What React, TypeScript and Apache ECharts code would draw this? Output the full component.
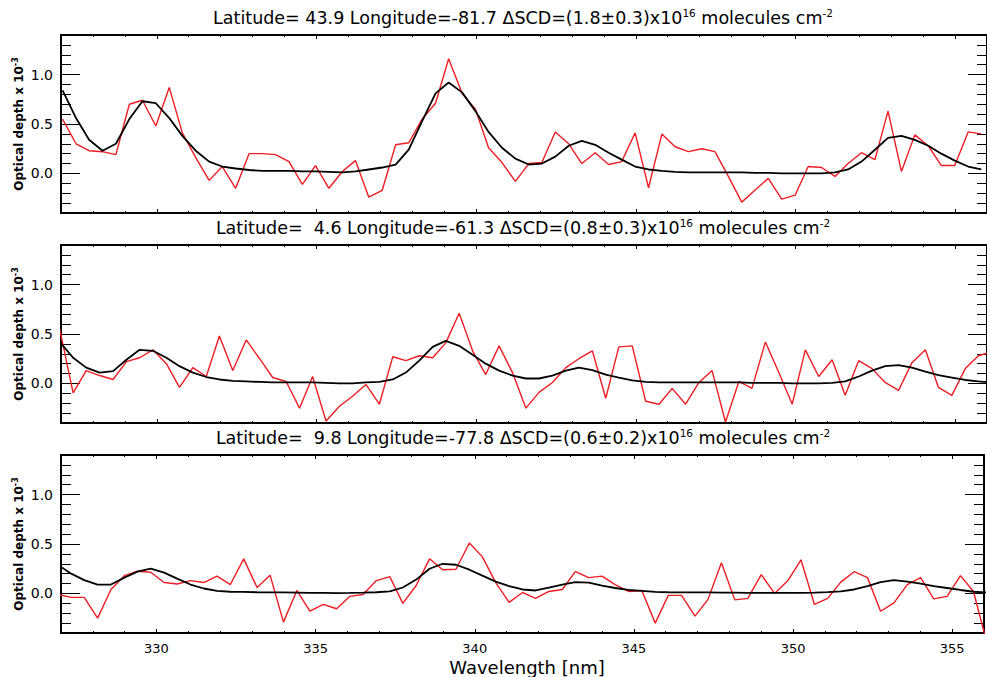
import React, { useEffect, useRef } from 'react';
import * as echarts from 'echarts';

// ---------- data ----------
const wl1 = [327.05, 327.47, 327.88, 328.30, 328.72, 329.14, 329.55, 329.97, 330.39, 330.80,
  331.22, 331.64, 332.05, 332.47, 332.89, 333.31, 333.72, 334.14, 334.56, 334.97,
  335.39, 335.81, 336.22, 336.64, 337.06, 337.48, 337.89, 338.31, 338.73, 339.14,
  339.56, 339.98, 340.39, 340.81, 341.23, 341.65, 342.06, 342.48, 342.90, 343.31,
  343.73, 344.15, 344.56, 344.98, 345.40, 345.82, 346.23, 346.65, 347.07, 347.48,
  347.90, 348.32, 348.73, 349.15, 349.57, 349.99, 350.40, 350.82, 351.24, 351.65,
  352.07, 352.49, 352.90, 353.32, 353.74, 354.16, 354.57, 354.99, 355.41, 355.82];
const obs1 = [0.55, 0.30, 0.23, 0.22, 0.19, 0.70, 0.74, 0.48, 0.87, 0.41,
  0.16, -0.07, 0.07, -0.15, 0.20, 0.20, 0.19, 0.12, -0.11, 0.08,
  -0.15, 0.02, 0.13, -0.24, -0.17, 0.29, 0.31, 0.55, 0.71, 1.16,
  0.81, 0.65, 0.26, 0.11, -0.08, 0.10, 0.11, 0.42, 0.30, 0.10,
  0.21, 0.09, 0.12, 0.41, -0.145, 0.40, 0.27, 0.22, 0.25, 0.22,
  -0.03, -0.29, -0.17, -0.05, -0.26, -0.22, 0.07, 0.06, -0.03, 0.10,
  0.21, 0.14, 0.63, 0.02, 0.39, 0.28, 0.08, 0.08, 0.42, 0.40];
const fit1 = [0.84, 0.56, 0.34, 0.23, 0.30, 0.55, 0.73, 0.71, 0.56, 0.38,
  0.23, 0.12, 0.07, 0.05, 0.035, 0.025, 0.025, 0.025, 0.02, 0.02,
  0.015, 0.01, 0.02, 0.04, 0.06, 0.09, 0.24, 0.53, 0.81, 0.92,
  0.82, 0.63, 0.42, 0.26, 0.15, 0.09, 0.10, 0.17, 0.28, 0.33,
  0.29, 0.21, 0.14, 0.07, 0.04, 0.025, 0.015, 0.01, 0.01, 0.01,
  0.01, 0.01, 0.005, 0.005, 0.0, 0.0, 0.0, 0.0, 0.01, 0.04,
  0.12, 0.24, 0.36, 0.38, 0.34, 0.28, 0.20, 0.13, 0.07, 0.04];

const wl2 = [326.96, 327.38, 327.79, 328.21, 328.63, 329.05, 329.46, 329.88, 330.30, 330.71,
  331.13, 331.55, 331.96, 332.38, 332.80, 333.22, 333.63, 334.05, 334.47, 334.88,
  335.30, 335.72, 336.13, 336.55, 336.97, 337.39, 337.80, 338.22, 338.64, 339.05,
  339.47, 339.89, 340.30, 340.72, 341.14, 341.56, 341.97, 342.39, 342.81, 343.22,
  343.64, 344.06, 344.47, 344.89, 345.31, 345.73, 346.14, 346.56, 346.98, 347.39,
  347.81, 348.23, 348.64, 349.06, 349.48, 349.90, 350.31, 350.73, 351.15, 351.56,
  351.98, 352.40, 352.81, 353.23, 353.65, 354.07, 354.48, 354.90, 355.32, 355.73, 356.15];
const obs2 = [0.55, -0.095, 0.13, 0.08, 0.04, 0.22, 0.26, 0.34, 0.20, -0.04,
  0.16, 0.07, 0.48, 0.13, 0.44, 0.25, 0.06, 0.02, -0.25, 0.07,
  -0.38, -0.23, -0.13, -0.01, -0.21, 0.27, 0.23, 0.28, 0.26, 0.41,
  0.71, 0.33, 0.09, 0.38, 0.11, -0.25, -0.09, 0.01, 0.16, 0.25,
  0.33, -0.15, 0.37, 0.38, -0.18, -0.21, -0.05, -0.21, 0.01, 0.13,
  -0.39, 0.02, -0.05, 0.42, 0.11, -0.21, 0.34, 0.07, 0.24, -0.12,
  0.23, 0.15, 0.01, -0.07, 0.21, 0.34, -0.04, -0.12, 0.15, 0.28, 0.32];
const fit2 = [0.42, 0.26, 0.16, 0.11, 0.125, 0.24, 0.34, 0.33, 0.26, 0.175,
  0.11, 0.065, 0.04, 0.025, 0.02, 0.015, 0.01, 0.01, 0.01, 0.01,
  0.005, 0.0, 0.0, 0.01, 0.015, 0.04, 0.11, 0.23, 0.37, 0.43,
  0.38, 0.29, 0.20, 0.13, 0.08, 0.05, 0.05, 0.08, 0.13, 0.16,
  0.135, 0.09, 0.06, 0.03, 0.015, 0.01, 0.01, 0.01, 0.01, 0.01,
  0.01, 0.01, 0.005, 0.005, 0.005, 0.0, 0.0, 0.0, 0.005, 0.02,
  0.07, 0.13, 0.175, 0.185, 0.16, 0.12, 0.085, 0.06, 0.035, 0.02, 0.01];

const wl3 = [326.90, 327.32, 327.73, 328.15, 328.57, 328.99, 329.40, 329.82, 330.24, 330.65,
  331.07, 331.49, 331.90, 332.32, 332.74, 333.16, 333.57, 333.99, 334.41, 334.82,
  335.24, 335.66, 336.07, 336.49, 336.91, 337.33, 337.74, 338.16, 338.58, 338.99,
  339.41, 339.83, 340.24, 340.66, 341.08, 341.50, 341.91, 342.33, 342.75, 343.16,
  343.58, 344.00, 344.41, 344.83, 345.25, 345.67, 346.08, 346.50, 346.92, 347.33,
  347.75, 348.17, 348.58, 349.00, 349.42, 349.84, 350.25, 350.67, 351.09, 351.50,
  351.92, 352.34, 352.75, 353.17, 353.59, 354.01, 354.42, 354.84, 355.26, 355.67, 356.09];
const obs3 = [-0.01, -0.04, -0.04, -0.25, 0.04, 0.18, 0.225, 0.215, 0.11, 0.095,
  0.13, 0.11, 0.175, 0.09, 0.35, 0.06, 0.185, -0.29, 0.03, -0.18,
  -0.11, -0.155, -0.03, -0.01, 0.13, 0.17, -0.10, 0.08, 0.35, 0.24,
  0.245, 0.51, 0.37, 0.11, -0.09, 0.01, -0.05, 0.02, 0.04, 0.22,
  0.16, 0.175, 0.09, 0.02, 0.03, -0.30, -0.02, -0.02, -0.23, -0.06,
  0.31, -0.065, -0.05, 0.19, 0.0, 0.13, 0.34, -0.11, -0.05, 0.115,
  0.22, 0.16, -0.18, -0.095, 0.09, 0.16, -0.055, -0.03, 0.18, 0.02, -0.5];
const fit3 = [0.29, 0.20, 0.135, 0.09, 0.09, 0.16, 0.22, 0.25, 0.21, 0.15,
  0.09, 0.05, 0.027, 0.017, 0.015, 0.012, 0.01, 0.01, 0.008, 0.006,
  0.005, 0.004, 0.005, 0.008, 0.012, 0.02, 0.06, 0.14, 0.25, 0.30,
  0.29, 0.24, 0.18, 0.12, 0.075, 0.04, 0.03, 0.06, 0.09, 0.115,
  0.11, 0.08, 0.055, 0.035, 0.025, 0.015, 0.012, 0.01, 0.01, 0.01,
  0.008, 0.008, 0.006, 0.005, 0.005, 0.005, 0.006, 0.008, 0.013, 0.02,
  0.04, 0.075, 0.115, 0.135, 0.12, 0.10, 0.075, 0.055, 0.035, 0.017, 0.01];

const latitudes = ['43.9', '4.6', '9.8'];
const longitudes = ['-81.7', '-61.3', '-77.8'];
const scdValues = ['1.8±0.3', '0.8±0.3', '0.6±0.2'];
const xMajorTicks = [330, 335, 340, 345, 350, 355];
const yMajorTicks = [0, 0.5, 1.0];
const xTitle = 'Wavelength [nm]';
const yTitle = 'Optical depth x 10';
const yTitleSup = '-3';

const panels = [
  { wl: wl1, obs: obs1, fit: fit1 },
  { wl: wl2, obs: obs2, fit: fit2 },
  { wl: wl3, obs: obs3, fit: fit3 },
];

// ---------- layout ----------
const X_MIN = 327;
const X_MAX = 356;
const Y_MIN = -0.4;
const Y_MAX = 1.4;
const GRID_LEFT = 61;
const GRID_WIDTH = 933;
const GRID_HEIGHT = 178;
const GRID_TOPS = [35, 245, 455];
const FONT = "'DejaVu Sans', sans-serif";
const RED = '#ee1d23';

function buildOption() {
  const grid: any[] = [];
  const xAxis: any[] = [];
  const yAxis: any[] = [];
  const series: any[] = [];
  const graphic: any[] = [];
  const tickStyle = { color: '#000', width: 1 };
  const lineStyle = { color: '#000', width: 2 };

  GRID_TOPS.forEach((top, g) => {
    grid.push({ left: GRID_LEFT, top, width: GRID_WIDTH, height: GRID_HEIGHT, containLabel: false });

    const xb = {
      type: 'value', gridIndex: g, min: X_MIN, max: X_MAX, interval: 1,
      splitLine: { show: false }, axisLabel: { show: false },
    };
    xAxis.push({
      ...xb, position: 'bottom',
      axisLine: { show: true, onZero: false, lineStyle },
      axisTick: { show: true, inside: true, length: 2, lineStyle: tickStyle },
      axisLabel: g === 2 ? {
        show: true, fontSize: 13, fontFamily: FONT, color: '#000', margin: 9,
        formatter: (v: number) => (Math.round(v) % 5 === 0 ? String(Math.round(v)) : ''),
      } : { show: false },
    });
    xAxis.push({
      ...xb, position: 'bottom',
      axisLine: { show: false, onZero: false },
      axisTick: { show: true, inside: true, length: 4, customValues: xMajorTicks, lineStyle: tickStyle },
    });
    xAxis.push({
      ...xb, position: 'top',
      axisLine: { show: true, onZero: false, lineStyle },
      axisTick: { show: true, inside: true, length: 2, lineStyle: tickStyle },
    });
    xAxis.push({
      ...xb, position: 'top',
      axisLine: { show: false, onZero: false },
      axisTick: { show: true, inside: true, length: 4, customValues: xMajorTicks, lineStyle: tickStyle },
    });

    const yb = {
      type: 'value', gridIndex: g, min: Y_MIN, max: Y_MAX, interval: 0.1,
      splitLine: { show: false }, axisLabel: { show: false },
    };
    yAxis.push({
      ...yb, position: 'left',
      axisLine: { show: true, onZero: false, lineStyle },
      axisTick: { show: true, inside: true, length: 10, lineStyle: tickStyle },
      axisLabel: {
        show: true, fontSize: 14, fontFamily: FONT, color: '#000', margin: 8,
        formatter: (v: number) => (Math.abs(v * 2 - Math.round(v * 2)) < 1e-6 && v > -0.01 ? v.toFixed(1) : ''),
      },
    });
    yAxis.push({
      ...yb, position: 'left',
      axisLine: { show: false, onZero: false },
      axisTick: { show: true, inside: true, length: 19, customValues: yMajorTicks, lineStyle: tickStyle },
    });
    yAxis.push({
      ...yb, position: 'right',
      axisLine: { show: true, onZero: false, lineStyle },
      axisTick: { show: true, inside: true, length: 10, lineStyle: tickStyle },
    });
    yAxis.push({
      ...yb, position: 'right',
      axisLine: { show: false, onZero: false },
      axisTick: { show: true, inside: true, length: 19, customValues: yMajorTicks, lineStyle: tickStyle },
    });

    const p = panels[g];
    series.push({
      type: 'line', xAxisIndex: 4 * g, yAxisIndex: 4 * g,
      data: p.wl.map((w, i) => [w, p.obs[i]]),
      symbol: 'none', showSymbol: false, clip: true, silent: true, z: 3,
      lineStyle: { color: RED, width: 1.4 },
    });
    series.push({
      type: 'line', xAxisIndex: 4 * g, yAxisIndex: 4 * g,
      data: p.wl.map((w, i) => [w, p.fit[i]]),
      symbol: 'none', showSymbol: false, clip: true, silent: true, z: 4,
      lineStyle: { color: '#000', width: 1.8 },
    });

    const lat = latitudes[g].padStart(5, '\u00a0');
    graphic.push({
      type: 'text', x: 523, y: top - 17,
      style: {
        text: `{t|Latitude=${lat} Longitude=${longitudes[g]} \u0394SCD=(${scdValues[g]})x10}{s|16}{t| molecules cm}{s|-2}`,
        rich: {
          t: { fontSize: 17.5, fontFamily: FONT, fill: '#000', lineHeight: 21 },
          s: { fontSize: 10.5, fontFamily: FONT, fill: '#000', lineHeight: 11, verticalAlign: 'top' },
        },
        align: 'center', verticalAlign: 'middle',
      },
    });
    graphic.push({
      type: 'text', x: 19, y: top + GRID_HEIGHT / 2, rotation: Math.PI / 2,
      style: {
        text: `{n|${yTitle}}{s|${yTitleSup}}`,
        rich: {
          n: { fontSize: 12, fontWeight: 'bold', fontFamily: FONT, fill: '#000', lineHeight: 16 },
          s: { fontSize: 8, fontWeight: 'bold', fontFamily: FONT, fill: '#000', lineHeight: 9, verticalAlign: 'top' },
        },
        align: 'center', verticalAlign: 'middle',
      },
    });
  });

  graphic.push({
    type: 'text', x: 527, y: 667,
    style: { text: xTitle, font: `18px ${FONT}`, fill: '#000', align: 'center', verticalAlign: 'middle' },
  });

  return {
    animation: false,
    backgroundColor: '#fff',
    textStyle: { fontFamily: FONT },
    grid, xAxis, yAxis, series, graphic,
  };
}

export default function App() {
  const ref = useRef<HTMLDivElement>(null);
  useEffect(() => {
    if (!ref.current) return;
    const chart = echarts.init(ref.current, null, { renderer: 'svg' });
    chart.setOption(buildOption() as any);
    return () => chart.dispose();
  }, []);
  return (
    <div
      ref={ref}
      style={{ position: 'absolute', left: 0, top: 0, width: 987, height: 677, background: '#fff' }}
    />
  );
}
